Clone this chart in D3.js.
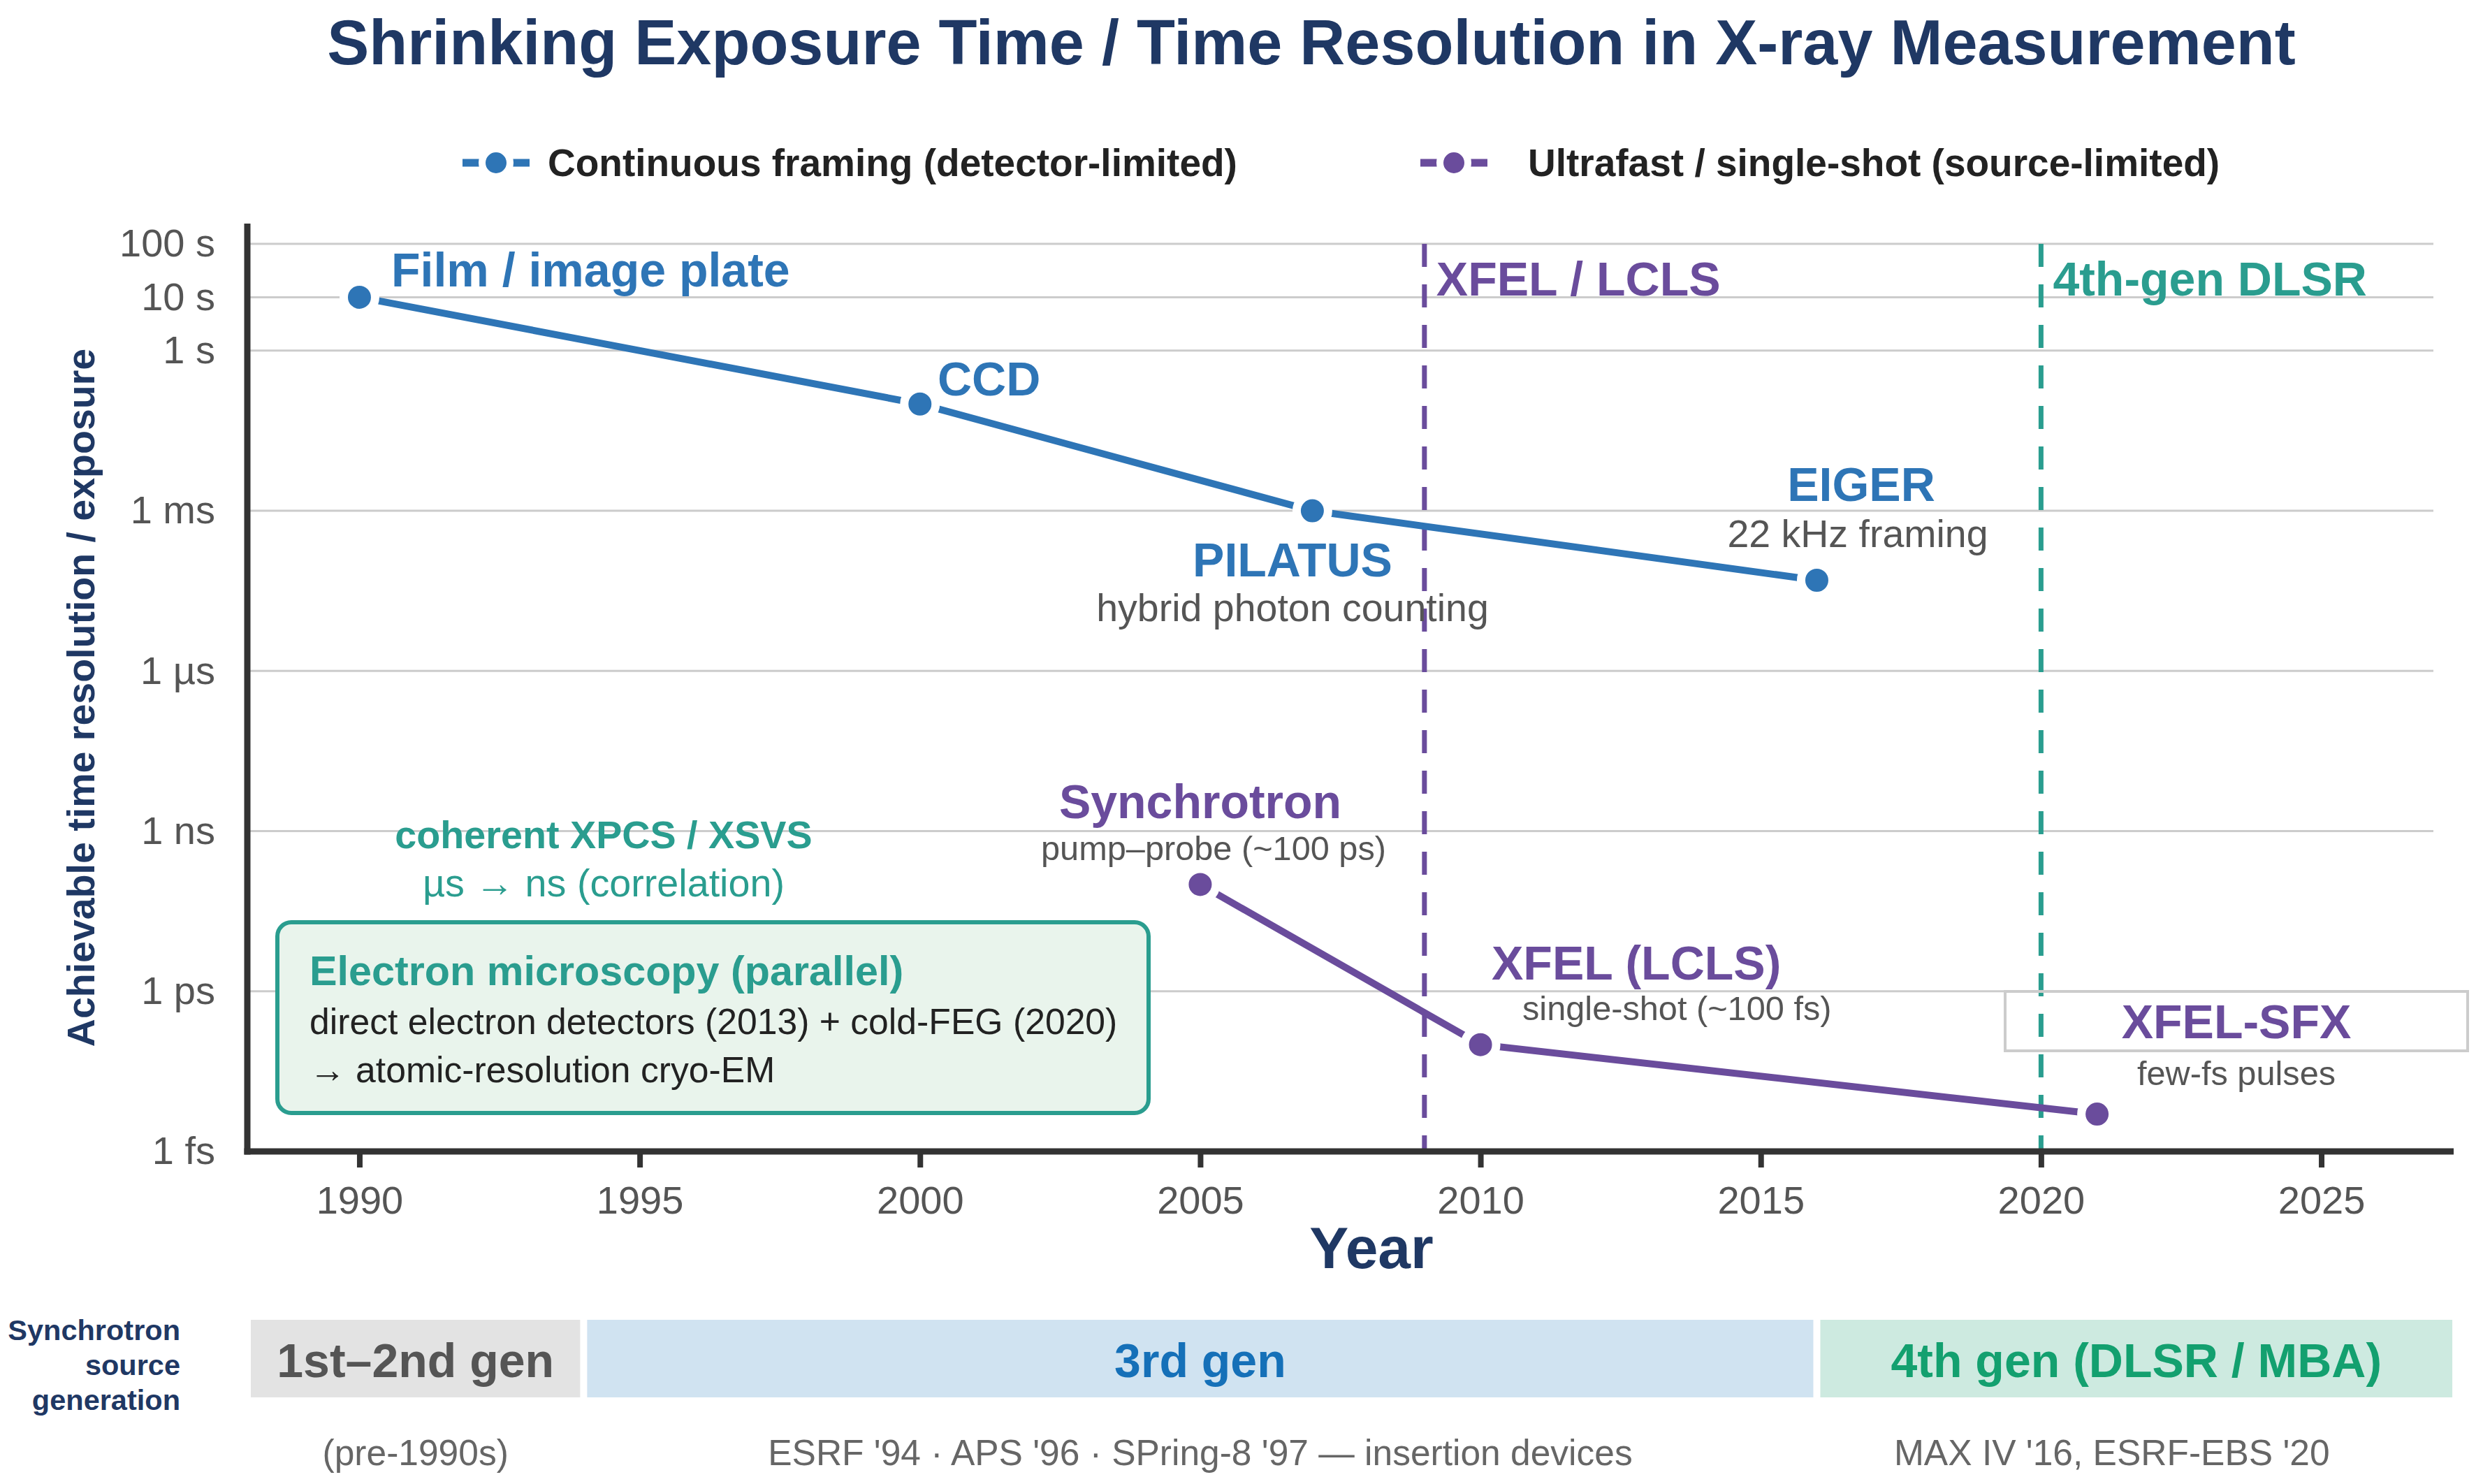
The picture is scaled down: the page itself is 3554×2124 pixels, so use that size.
<!DOCTYPE html>
<html>
<head>
<meta charset="utf-8">
<script src="https://cdn.jsdelivr.net/npm/d3@7"></script>
<style>
  html, body { margin: 0; padding: 0; background: #fff; }
  svg { display: block; }
  text { font-family: "Liberation Sans", Arial, Helvetica, sans-serif; }
</style>
</head>
<body>
<svg id="chart" width="3554" height="2124"></svg>
<script>
// ---------------- DATA ----------------
const continuousYears  = [1990, 2000, 2007, 2016];
const continuousValues = [10, 0.1, 1e-3, 5e-5];          // seconds
const ultrafastYears   = [2005, 2010, 2021];
const ultrafastValues  = [1e-10, 1e-13, 5e-15];          // seconds

const seriesNames = ["Continuous framing (detector-limited)", "Ultrafast / single-shot (source-limited)"];

const xTickValues = [1990, 1995, 2000, 2005, 2010, 2015, 2020, 2025];
const yTickValues = [1e2, 1e1, 1e0, 1e-3, 1e-6, 1e-9, 1e-12, 1e-15];
const yTickLabels = ["100 s", "10 s", "1 s", "1 ms", "1 µs", "1 ns", "1 ps", "1 fs"];

const milestoneYears  = [2009, 2020];
const milestoneLabels = ["XFEL / LCLS", "4th-gen DLSR"];

const bandStarts = [1988, 1994, 2016];
const bandEnds   = [1994, 2016, 2027.4];
const bandLabels = ["1st–2nd gen", "3rd gen", "4th gen (DLSR / MBA)"];
const bandNotes  = ["(pre-1990s)", "ESRF '94 · APS '96 · SPring-8 '97 — insertion devices", "MAX IV '16, ESRF-EBS '20"];

// ---------------- STYLE / LAYOUT ----------------
const W = 3554, H = 2124;
const m = { left: 354, right: 3483, top: 349, bottom: 1648 };
const C = {
  blue: "#2e75b6", purple: "#6a4c9c", teal: "#2a9d8f", navy: "#1f3864",
  grid: "#cccccc", axis: "#333333", tick: "#555555", sub: "#555555", note: "#666666"
};
const seriesColors = [C.blue, C.purple];
const milestoneColors = [C.purple, C.teal];
const bandFills = ["#e3e3e3", "#d0e3f1", "#cdeae0"];
const bandText  = ["#555555", "#1570b8", "#13a06f"];

const svg = d3.select("#chart");
svg.append("rect").attr("width", W).attr("height", H).attr("fill", "#fff");

const x = d3.scaleLinear().domain([1988, 2027]).range([m.left, m.right]);
const y = d3.scaleLog().domain([1e-15, 1e2]).range([m.bottom, m.top]);

// Title
svg.append("text").attr("x", 1877).attr("y", 92).attr("text-anchor", "middle")
  .attr("font-size", 90).attr("font-weight", "bold").attr("fill", C.navy)
  .text("Shrinking Exposure Time / Time Resolution in X-ray Measurement");

// Gridlines
svg.append("g").selectAll("line").data(yTickValues).join("line")
  .attr("x1", m.left).attr("x2", m.right)
  .attr("y1", d => y(d)).attr("y2", d => y(d))
  .attr("stroke", C.grid).attr("stroke-width", 3);

// Y axis labels
const yAxis = d3.axisLeft(y).tickValues(yTickValues)
  .tickFormat((d, i) => yTickLabels[i]).tickSize(0).tickPadding(46);
const gy = svg.append("g").attr("transform", `translate(${m.left},0)`).call(yAxis);
gy.select(".domain").remove();
gy.selectAll("text").attr("font-size", 56).attr("fill", C.tick)
  .style("font-family", '"Liberation Sans", Arial, sans-serif');

// X axis
const xAxis = d3.axisBottom(x).tickValues(xTickValues).tickFormat(d3.format("d"))
  .tickSize(23).tickPadding(26);
const gx = svg.append("g").attr("transform", `translate(0,${m.bottom})`).call(xAxis);
gx.select(".domain").remove();
gx.selectAll(".tick line").attr("stroke", C.axis).attr("stroke-width", 8);
gx.selectAll("text").attr("font-size", 56).attr("fill", C.tick)
  .style("font-family", '"Liberation Sans", Arial, sans-serif');

// Milestone dashed verticals
svg.append("g").selectAll("line").data(milestoneYears).join("line")
  .attr("x1", d => x(d)).attr("x2", d => x(d))
  .attr("y1", m.top).attr("y2", m.bottom)
  .attr("stroke", (d, i) => milestoneColors[i]).attr("stroke-width", 7)
  .attr("stroke-dasharray", "33,25");
svg.append("g").selectAll("text").data(milestoneYears).join("text")
  .attr("x", d => x(d) + 17).attr("y", 423)
  .attr("font-size", 68).attr("font-weight", "bold")
  .attr("fill", (d, i) => milestoneColors[i])
  .text((d, i) => milestoneLabels[i]);

// Spines
svg.append("line").attr("x1", m.left).attr("x2", m.left).attr("y1", m.top - 29).attr("y2", m.bottom + 4.5)
  .attr("stroke", C.axis).attr("stroke-width", 9);
svg.append("line").attr("x1", m.left - 4.5).attr("x2", 3512).attr("y1", m.bottom).attr("y2", m.bottom)
  .attr("stroke", C.axis).attr("stroke-width", 9);

// Axis titles
svg.append("text").attr("transform", `translate(135,${(m.top + m.bottom) / 2}) rotate(-90)`)
  .attr("text-anchor", "middle").attr("font-size", 55.5).attr("font-weight", "bold")
  .attr("fill", C.navy).text("Achievable time resolution / exposure");
svg.append("text").attr("x", 1963).attr("y", 1815).attr("text-anchor", "middle")
  .attr("font-size", 84).attr("font-weight", "bold").attr("fill", C.navy).text("Year");

// Series
const seriesData = [
  continuousYears.map((yr, i) => ({ year: yr, value: continuousValues[i] })),
  ultrafastYears.map((yr, i) => ({ year: yr, value: ultrafastValues[i] }))
];
const line = d3.line().x(d => x(d.year)).y(d => y(d.value));
seriesData.forEach((s, si) => {
  svg.append("path").datum(s).attr("d", line).attr("fill", "none")
    .attr("stroke", seriesColors[si]).attr("stroke-width", 10).attr("stroke-linecap", "butt");
  svg.append("g").selectAll("circle").data(s).join("circle")
    .attr("cx", d => x(d.year)).attr("cy", d => y(d.value)).attr("r", 22.5)
    .attr("fill", seriesColors[si]).attr("stroke", "#fff").attr("stroke-width", 12);
});

// Legend
const legendItems = [
  { x0: 662, x1: 758, tx: 784 },
  { x0: 2033, x1: 2129, tx: 2187 }
];
const ly = 233;
legendItems.forEach((it, i) => {
  svg.append("line").attr("x1", it.x0).attr("x2", it.x1).attr("y1", ly).attr("y2", ly)
    .attr("stroke", seriesColors[i]).attr("stroke-width", 11).attr("stroke-dasharray", "24,12");
  svg.append("circle").attr("cx", (it.x0 + it.x1) / 2).attr("cy", ly).attr("r", 20)
    .attr("fill", seriesColors[i]).attr("stroke", "#fff").attr("stroke-width", 10);
  svg.append("text").attr("x", it.tx).attr("y", ly + 19).attr("font-size", 55)
    .attr("font-weight", "bold").attr("fill", "#222").text(seriesNames[i]);
});

// Annotations
function txt(xp, yp, s, opt) {
  return svg.append("text").attr("x", xp).attr("y", yp)
    .attr("font-size", opt.size).attr("fill", opt.color)
    .attr("text-anchor", opt.anchor || "start")
    .attr("font-weight", opt.bold ? "bold" : "normal").text(s);
}
const big = { size: 68, bold: true };
txt(560, 410, "Film / image plate", { ...big, color: C.blue });
txt(1342, 566, "CCD", { ...big, color: C.blue });
txt(1850, 825, "PILATUS", { ...big, color: C.blue, anchor: "middle" });
txt(1850, 889, "hybrid photon counting", { size: 55.5, color: C.sub, anchor: "middle" });
txt(2664, 717, "EIGER", { ...big, color: C.blue, anchor: "middle" });
txt(2659, 783, "22 kHz framing", { size: 55.5, color: C.sub, anchor: "middle" });

txt(1718, 1171, "Synchrotron", { ...big, color: C.purple, anchor: "middle" });
txt(1737, 1231, "pump–probe (~100 ps)", { size: 48.7, color: C.sub, anchor: "middle" });
txt(2135, 1402, "XFEL (LCLS)", { ...big, color: C.purple });
txt(2179, 1460, "single-shot (~100 fs)", { size: 48.7, color: C.sub });

txt(864, 1214, "coherent XPCS / XSVS", { size: 55.7, bold: true, color: C.teal, anchor: "middle" });
txt(864, 1283, "µs → ns (correlation)", { size: 55.7, color: C.teal, anchor: "middle" });

// Electron microscopy box
svg.append("rect").attr("x", 397).attr("y", 1320).attr("width", 1247).attr("height", 273)
  .attr("rx", 20).attr("fill", "#e9f4ec").attr("stroke", C.teal).attr("stroke-width", 6);
txt(443, 1410, "Electron microscopy (parallel)", { size: 59.3, bold: true, color: C.teal });
txt(443, 1480, "direct electron detectors (2013) + cold-FEG (2020)", { size: 51.7, color: "#222" });
txt(443, 1549, "→ atomic-resolution cryo-EM", { size: 51.7, color: "#222" });

// XFEL-SFX box
svg.append("rect").attr("x", 2870).attr("y", 1419).attr("width", 662).attr("height", 85)
  .attr("fill", "none").attr("stroke", "#cccccc").attr("stroke-width", 4);
txt(3201, 1486, "XFEL-SFX", { ...big, color: C.purple, anchor: "middle" });
txt(3201, 1553, "few-fs pulses", { size: 48.7, color: C.sub, anchor: "middle" });

// Source generation bands
const bandTop = 1889, bandBottom = 2000;
const bands = bandStarts.map((s, i) => ({ s, e: bandEnds[i], label: bandLabels[i], note: bandNotes[i], i }));
const gb = svg.append("g");
gb.selectAll("rect").data(bands).join("rect")
  .attr("x", d => x(d.s) + 5).attr("width", d => x(d.e) - x(d.s) - 10)
  .attr("y", bandTop).attr("height", bandBottom - bandTop)
  .attr("fill", d => bandFills[d.i]);
gb.selectAll("text.bl").data(bands).join("text").attr("class", "bl")
  .attr("x", d => (x(d.s) + x(d.e)) / 2).attr("y", 1971).attr("text-anchor", "middle")
  .attr("font-size", 68).attr("font-weight", "bold").attr("fill", d => bandText[d.i])
  .text(d => d.label);
const noteShift = [0, 0, -35];
gb.selectAll("text.bn").data(bands).join("text").attr("class", "bn")
  .attr("x", d => (x(d.s) + x(d.e)) / 2 + noteShift[d.i]).attr("y", 2097).attr("text-anchor", "middle")
  .attr("font-size", 51.5).attr("fill", C.note).text(d => d.note);

["Synchrotron", "source", "generation"].forEach((s, i) => {
  txt(258, 1918 + i * 50, s, { size: 41.5, bold: true, color: C.navy, anchor: "end" });
});
</script>
</body>
</html>
